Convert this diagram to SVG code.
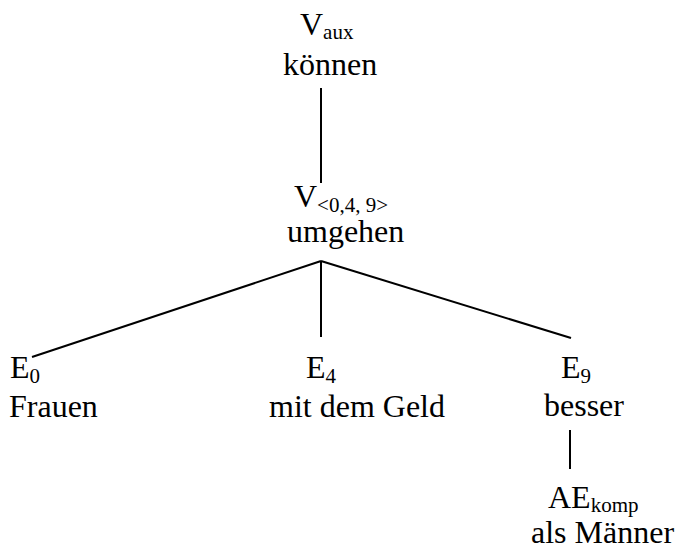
<svg xmlns="http://www.w3.org/2000/svg" width="676" height="546" viewBox="0 0 676 546">
  <style>
    text { font-family: "Liberation Serif", "Times New Roman", serif; font-size: 32px; fill: #000; }
    .sub { font-size: 21px; }
    .edge { stroke: #000; stroke-width: 2; fill: none; }
  </style>
  <rect width="676" height="546" fill="#fff"/>

  <!-- dependency edges -->
  <g id="connectors">
    <line class="edge" x1="321" y1="88" x2="321" y2="183"/>
    <line class="edge" x1="321" y1="261" x2="32" y2="357"/>
    <line class="edge" x1="321" y1="261" x2="321" y2="337"/>
    <line class="edge" x1="321" y1="261" x2="571" y2="338"/>
    <line class="edge" x1="570" y1="430" x2="570" y2="469"/>
  </g>

  <g id="n-vaux">
    <text x="300" y="35">V<tspan class="sub" dy="4">aux</tspan></text>
    <text x="283" y="75">können</text>
  </g>

  <g id="n-v">
    <text x="294" y="207">V<tspan class="sub" dy="5">&lt;0,4, 9&gt;</tspan></text>
    <text x="287" y="242">umgehen</text>
  </g>

  <g id="n-e0">
    <text x="10" y="378">E<tspan class="sub" dy="5">0</tspan></text>
    <text x="9" y="417">Frauen</text>
  </g>

  <g id="n-e4">
    <text x="306" y="378">E<tspan class="sub" dy="5">4</tspan></text>
    <text x="269" y="417">mit dem Geld</text>
  </g>

  <g id="n-e9">
    <text x="561" y="378">E<tspan class="sub" dy="5">9</tspan></text>
    <text x="544" y="416">besser</text>
  </g>

  <g id="n-aekomp">
    <text x="548" y="508">AE<tspan class="sub" dy="4">komp</tspan></text>
    <text x="531" y="543">als Männer</text>
  </g>
</svg>
